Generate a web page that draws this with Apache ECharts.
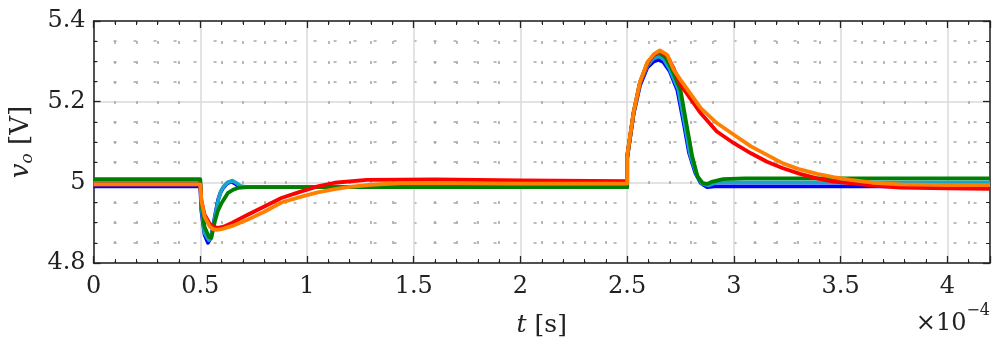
<!DOCTYPE html>
<html>
<head>
<meta charset="utf-8">
<title>vo</title>
<script src="https://cdn.jsdelivr.net/npm/echarts@6/dist/echarts.min.js"></script>
<style>
  html, body { margin: 0; padding: 0; background: #fff; }
  #main { width: 996px; height: 348px; }
</style>
</head>
<body>
<div id="main"></div>
<script>
// time in units of 1e-4 s (axis shows x10^-4)
var xTicks = [0, 0.5, 1, 1.5, 2, 2.5, 3, 3.5, 4];
var yTicks = [4.8, 5, 5.2, 5.4];

var tBlue = [0, 0.5, 0.505, 0.52, 0.536, 0.55, 0.56, 0.57, 0.583, 0.595, 0.607, 0.625, 0.645, 0.665, 0.68, 0.72, 2.5, 2.5, 2.53, 2.56, 2.595, 2.625, 2.647, 2.67, 2.7, 2.735, 2.765, 2.79, 2.82, 2.845, 2.875, 2.91, 4.2];
var vBlue = [4.99, 4.99, 4.93, 4.87, 4.85, 4.863, 4.89, 4.92, 4.956, 4.975, 4.986, 4.997, 5.002, 4.996, 4.99, 4.988, 4.988, 5.06, 5.17, 5.24, 5.285, 5.3, 5.304, 5.298, 5.275, 5.229, 5.147, 5.073, 5.023, 4.998, 4.988, 4.99, 4.99];

var tCyan = [0, 0.5, 0.505, 0.52, 0.54, 0.553, 0.563, 0.573, 0.586, 0.598, 0.61, 0.628, 0.65, 0.67, 0.69, 0.73, 2.5, 2.5, 2.53, 2.56, 2.595, 2.625, 2.65, 2.672, 2.7, 2.74, 2.77, 2.795, 2.825, 2.85, 2.88, 2.92, 4.2];
var vCyan = [5.0, 5.0, 4.94, 4.875, 4.857, 4.87, 4.895, 4.925, 4.96, 4.98, 4.99, 5.0, 5.004, 4.998, 4.99, 4.988, 4.988, 5.065, 5.172, 5.245, 5.29, 5.308, 5.312, 5.305, 5.28, 5.23, 5.145, 5.07, 5.02, 4.997, 4.992, 5.0, 5.0];

var tGreen = [0, 0.5, 0.505, 0.52, 0.54, 0.552, 0.566, 0.583, 0.6, 0.63, 0.655, 0.677, 0.72, 2.5, 2.5, 2.53, 2.56, 2.595, 2.625, 2.652, 2.68, 2.71, 2.75, 2.78, 2.805, 2.83, 2.855, 2.875, 2.9, 2.95, 3.05, 4.2];
var vGreen = [5.008, 5.008, 4.95, 4.89, 4.865, 4.862, 4.899, 4.93, 4.949, 4.974, 4.982, 4.986, 4.988, 4.988, 5.06, 5.172, 5.247, 5.296, 5.316, 5.321, 5.31, 5.28, 5.229, 5.138, 5.064, 5.014, 4.998, 4.996, 5.002, 5.008, 5.01, 5.01];

var tRed = [0, 0.5, 0.505, 0.52, 0.545, 0.565, 0.583, 0.61, 0.65, 0.72, 0.8, 0.88, 0.97, 1.05, 1.13, 1.28, 1.6, 2.0, 2.5, 2.5, 2.53, 2.56, 2.595, 2.625, 2.655, 2.69, 2.72, 2.75, 2.845, 2.92, 3.0, 3.08, 3.155, 3.23, 3.31, 3.39, 3.466, 3.545, 3.65, 3.78, 4.0, 4.2];
var vRed = [4.995, 4.995, 4.955, 4.92, 4.897, 4.889, 4.887, 4.89, 4.9, 4.919, 4.94, 4.961, 4.977, 4.99, 4.999, 5.006, 5.007, 5.005, 5.003, 5.065, 5.172, 5.247, 5.295, 5.316, 5.324, 5.312, 5.28, 5.242, 5.171, 5.126, 5.097, 5.072, 5.051, 5.035, 5.021, 5.01, 5.002, 4.998, 4.992, 4.987, 4.985, 4.984];

var tOrange = [0, 0.5, 0.505, 0.52, 0.545, 0.56, 0.575, 0.6, 0.65, 0.72, 0.8, 0.88, 0.97, 1.05, 1.13, 1.2, 1.3, 1.44, 1.7, 2.0, 2.5, 2.5, 2.53, 2.56, 2.595, 2.625, 2.653, 2.688, 2.718, 2.75, 2.845, 2.92, 3.0, 3.08, 3.155, 3.23, 3.31, 3.39, 3.466, 3.545, 3.65, 3.78, 4.0, 4.2];
var vOrange = [4.995, 4.995, 4.955, 4.915, 4.89, 4.884, 4.882, 4.884, 4.892, 4.907, 4.927, 4.95, 4.964, 4.975, 4.983, 4.989, 4.994, 4.998, 4.998, 4.997, 4.997, 5.065, 5.174, 5.249, 5.298, 5.318, 5.327, 5.316, 5.279, 5.254, 5.184, 5.147, 5.118, 5.089, 5.068, 5.047, 5.032, 5.021, 5.013, 5.006, 4.999, 4.995, 4.993, 4.993];

function pairs(t, v) {
  return t.map(function (x, i) { return [x, v[i]]; });
}

var FONT = 'DejaVu Serif';
var chart = echarts.init(document.getElementById('main'));

function fmtNum(v) { return String(+v.toFixed(2)); }

function mkSeries(name, color, t, v, w) {
  return {
    name: name,
    type: 'line',
    data: pairs(t, v),
    showSymbol: false,
    animation: false,
    lineStyle: { color: color, width: w, join: 'round' },
    itemStyle: { color: color }
  };
}

var xBase = {
  type: 'value', min: 0, max: 4.2, interval: 0.5,
  axisLine: { show: true, onZero: false, lineStyle: { color: '#222', width: 1.5 } },
  axisTick: { show: true, inside: true, length: 7, lineStyle: { color: '#222', width: 1.3 } },
  minorTick: { show: true, splitNumber: 5, length: 4, lineStyle: { color: '#222', width: 1 } }
};
var yBase = {
  type: 'value', min: 4.8, max: 5.4, interval: 0.2,
  axisLine: { show: true, onZero: false, lineStyle: { color: '#222', width: 1.5 } },
  axisTick: { show: true, inside: true, length: 7, lineStyle: { color: '#222', width: 1.3 } },
  minorTick: { show: true, splitNumber: 4, length: 4, lineStyle: { color: '#222', width: 1 } }
};

var minorStyle = { show: true, lineStyle: { color: '#a8a8a8', width: 1.6, type: [3, 17] } };

chart.setOption({
  backgroundColor: '#fff',
  animation: false,
  grid: { left: 92, right: 6, top: 21, bottom: 85 },
  xAxis: [
    Object.assign({}, xBase, {
      position: 'bottom',
      name: '{i|t} [s]',
      nameLocation: 'middle',
      nameGap: 50,
      nameTextStyle: {
        fontFamily: FONT, fontSize: 25, color: '#222',
        rich: { i: { fontFamily: FONT, fontSize: 25, fontStyle: 'italic', color: '#222' } }
      },
      axisLabel: {
        show: true, margin: 12, fontFamily: FONT, fontSize: 24, color: '#222',
        showMaxLabel: false,
        formatter: function (v) { return xTicks.indexOf(+v.toFixed(2)) >= 0 ? fmtNum(v) : ''; }
      },
      splitLine: { show: true, lineStyle: { color: '#dadada', width: 1.5 } },
      minorSplitLine: minorStyle
    }),
    Object.assign({}, xBase, {
      position: 'top',
      axisLabel: { show: false },
      splitLine: { show: false }
    })
  ],
  yAxis: [
    Object.assign({}, yBase, {
      position: 'left',
      name: '{i|v}{s|o} [V]',
      nameLocation: 'middle',
      nameGap: 50,
      nameRotate: 90,
      nameTextStyle: {
        fontFamily: FONT, fontSize: 26, color: '#222',
        rich: {
          i: { fontFamily: FONT, fontSize: 26, fontStyle: 'italic', color: '#222' },
          s: { fontFamily: FONT, fontSize: 17, fontStyle: 'italic', color: '#222', padding: [14, 0, 0, 0] }
        }
      },
      axisLabel: {
        show: true, margin: 8, fontFamily: FONT, fontSize: 24, color: '#222',
        formatter: function (v) { return yTicks.indexOf(+v.toFixed(2)) >= 0 ? fmtNum(v) : ''; }
      },
      splitLine: { show: true, lineStyle: { color: '#dadada', width: 1.5 } },
      minorSplitLine: minorStyle
    }),
    Object.assign({}, yBase, {
      position: 'right',
      axisLabel: { show: false },
      splitLine: { show: false }
    })
  ],
  graphic: [{
    type: 'text',
    right: 6,
    top: 303,
    style: {
      text: '{a|×10}{b|−4}',
      fill: '#222',
      rich: {
        a: { fontFamily: FONT, fontSize: 24, fill: '#222', padding: [12, 0, 0, 0] },
        b: { fontFamily: FONT, fontSize: 16, fill: '#222', padding: [0, 0, 14, 0] }
      }
    }
  }],
  series: [
    mkSeries('blue', '#0000ff', tBlue, vBlue, 3.8),
    mkSeries('cyan', '#1aa3c8', tCyan, vCyan, 3.8),
    mkSeries('green', '#008000', tGreen, vGreen, 3.8),
    mkSeries('red', '#ff0000', tRed, vRed, 3.8),
    mkSeries('orange', '#ff8000', tOrange, vOrange, 3.8)
  ]
});
</script>
</body>
</html>
